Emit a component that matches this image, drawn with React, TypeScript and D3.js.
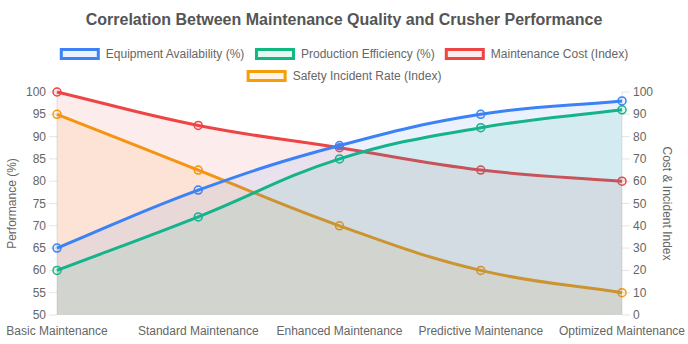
import React, { useMemo } from "react";
import * as d3 from "d3";

const categories = [
  "Basic Maintenance",
  "Standard Maintenance",
  "Enhanced Maintenance",
  "Predictive Maintenance",
  "Optimized Maintenance",
];
const equipmentAvailability = [65, 78, 88, 95, 98];
const productionEfficiency = [60, 72, 85, 92, 96];
const maintenanceCost = [100, 85, 75, 65, 60];
const safetyIncidentRate = [90, 65, 40, 20, 10];
const leftTicks = [50, 55, 60, 65, 70, 75, 80, 85, 90, 95, 100];
const rightTicks = [0, 10, 20, 30, 40, 50, 60, 70, 80, 90, 100];

const titleText = "Correlation Between Maintenance Quality and Crusher Performance";
const leftTitle = "Performance (%)";
const rightTitle = "Cost & Incident Index";

type Series = { name: string; values: number[]; color: string; axis: "left" | "right" };
const series: Series[] = [
  { name: "Equipment Availability (%)", values: equipmentAvailability, color: "#3b82f6", axis: "left" },
  { name: "Production Efficiency (%)", values: productionEfficiency, color: "#10b981", axis: "left" },
  { name: "Maintenance Cost (Index)", values: maintenanceCost, color: "#ef4444", axis: "right" },
  { name: "Safety Incident Rate (Index)", values: safetyIncidentRate, color: "#f59e0b", axis: "right" },
];

const W = 688;
const H = 344;
const FONT = "'Liberation Sans', Arial, Helvetica, sans-serif";
const plot = { left: 57, right: 622, top: 92, bottom: 315 };

function withAlpha(c: string, a: number) {
  const col = d3.color(c)!;
  col.opacity = a;
  return col.toString();
}

type P = { x: number; y: number; cpx1?: number; cpy1?: number; cpx2?: number; cpy2?: number };

function splinePath(pts: P[], t: number) {
  const n = pts.length;
  for (let i = 0; i < n; i++) {
    const cur = pts[i];
    const prev = i > 0 ? pts[i - 1] : cur;
    const next = i < n - 1 ? pts[i + 1] : cur;
    const d01 = Math.hypot(cur.x - prev.x, cur.y - prev.y);
    const d12 = Math.hypot(next.x - cur.x, next.y - cur.y);
    let s01 = d01 / (d01 + d12);
    let s12 = d12 / (d01 + d12);
    if (isNaN(s01)) s01 = 0;
    if (isNaN(s12)) s12 = 0;
    const fa = t * s01;
    const fb = t * s12;
    const clampX = (v: number) => Math.max(plot.left, Math.min(plot.right, v));
    const clampY = (v: number) => Math.max(plot.top, Math.min(plot.bottom, v));
    cur.cpx1 = clampX(cur.x - fa * (next.x - prev.x));
    cur.cpy1 = clampY(cur.y - fa * (next.y - prev.y));
    cur.cpx2 = clampX(cur.x + fb * (next.x - prev.x));
    cur.cpy2 = clampY(cur.y + fb * (next.y - prev.y));
  }
  const p = d3.path();
  p.moveTo(pts[0].x, pts[0].y);
  for (let i = 1; i < n; i++) {
    const a = pts[i - 1];
    const b = pts[i];
    p.bezierCurveTo(a.cpx2!, a.cpy2!, b.cpx1!, b.cpy1!, b.x, b.y);
  }
  return p.toString();
}

function measure(text: string, font: string) {
  if (typeof document === "undefined") return text.length * 6;
  const c = document.createElement("canvas");
  const ctx = c.getContext("2d")!;
  ctx.font = font;
  return ctx.measureText(text).width;
}

export default function App() {
  const x = d3
    .scalePoint<string>()
    .domain(categories)
    .range([plot.left, plot.right]);
  const yL = d3.scaleLinear().domain([50, 100]).range([plot.bottom, plot.top]);
  const yR = d3.scaleLinear().domain([0, 100]).range([plot.bottom, plot.top]);

  const legendRows = useMemo(() => {
    const font = `12px 'Liberation Sans', Arial`;
    const items = series.map((s) => ({ s, w: 40 + 6 + measure(s.name, font) }));
    const maxW = W - 20;
    const rows: { s: Series; w: number }[][] = [[]];
    let cur = 0;
    items.forEach((it) => {
      const add = (rows[rows.length - 1].length ? 10 : 0) + it.w;
      if (cur + add > maxW - 60 && rows[rows.length - 1].length) {
        rows.push([it]);
        cur = it.w;
      } else {
        rows[rows.length - 1].push(it);
        cur += add;
      }
    });
    return rows;
  }, []);

  // rows: ensure 3 + 1 layout like reference
  const rows =
    legendRows.length === 2 && legendRows[0].length === 3
      ? legendRows
      : (() => {
          const font = `12px 'Liberation Sans', Arial`;
          const items = series.map((s) => ({ s, w: 40 + 6 + measure(s.name, font) }));
          return [items.slice(0, 3), items.slice(3)];
        })();

  const drawOrder = [...series].reverse();

  return (
    <svg width={W} height={H} style={{ position: "absolute", left: 0, top: 0, fontFamily: FONT }}>
      <rect x={0} y={0} width={W} height={H} fill="#fff" />
      <text x={W / 2} y={19} textAnchor="middle" dominantBaseline="central" fontSize={16} fontWeight="bold" fill="#555">
        {titleText}
      </text>

      {rows.map((row, ri) => {
        const total = row.reduce((a, b) => a + b.w, 0) + 10 * (row.length - 1);
        let cx = W / 2 - total / 2;
        const cy = 54 + ri * 22;
        return row.map((it) => {
          const x0 = cx;
          cx += it.w + 10;
          return (
            <g key={it.s.name}>
              <rect x={x0 + 1.5} y={cy - 6 + 1.5} width={40 - 3} height={12 - 3} fill={withAlpha(it.s.color, 0.1)} stroke={it.s.color} strokeWidth={3} />
              <text x={x0 + 46} y={cy} dominantBaseline="central" fontSize={12} fill="#666">
                {it.s.name}
              </text>
            </g>
          );
        });
      })}

      {/* axes */}
      <line x1={plot.left} x2={plot.left} y1={plot.top} y2={plot.bottom} stroke="rgba(0,0,0,0.1)" />
      <line x1={plot.right} x2={plot.right} y1={plot.top} y2={plot.bottom} stroke="rgba(0,0,0,0.1)" />
      {leftTicks.map((t) => (
        <g key={"l" + t}>
          <line x1={plot.left - 8} x2={plot.left} y1={yL(t)} y2={yL(t)} stroke="rgba(0,0,0,0.1)" />
          <text x={plot.left - 11} y={yL(t)} textAnchor="end" dominantBaseline="central" fontSize={12} fill="#666">
            {t}
          </text>
        </g>
      ))}
      {rightTicks.map((t) => (
        <g key={"r" + t}>
          <line x1={plot.right} x2={plot.right + 8} y1={yR(t)} y2={yR(t)} stroke="rgba(0,0,0,0.1)" />
          <text x={plot.right + 11} y={yR(t)} textAnchor="start" dominantBaseline="central" fontSize={12} fill="#666">
            {t}
          </text>
        </g>
      ))}
      {categories.map((c) => (
        <text key={c} x={x(c)!} y={331} textAnchor="middle" dominantBaseline="central" fontSize={12} fill="#666">
          {c}
        </text>
      ))}
      <text
        transform={`translate(12,${(plot.top + plot.bottom) / 2}) rotate(-90)`}
        textAnchor="middle"
        dominantBaseline="central"
        fontSize={12}
        fill="#666"
      >
        {leftTitle}
      </text>
      <text
        transform={`translate(667,${(plot.top + plot.bottom) / 2}) rotate(90)`}
        textAnchor="middle"
        dominantBaseline="central"
        fontSize={12}
        fill="#666"
      >
        {rightTitle}
      </text>

      {drawOrder.map((s) => {
        const ys = s.axis === "left" ? yL : yR;
        const pts: P[] = s.values.map((v, i) => ({ x: x(categories[i])!, y: ys(v) }));
        const line = splinePath(pts, 0.4);
        const area = `${line}L${pts[pts.length - 1].x},${plot.bottom}L${pts[0].x},${plot.bottom}Z`;
        return (
          <g key={s.name}>
            <path d={area} fill={withAlpha(s.color, 0.1)} stroke="none" />
            <path d={line} fill="none" stroke={s.color} strokeWidth={3} />
            {pts.map((p, i) => (
              <circle key={i} cx={p.x} cy={p.y} r={4} fill={withAlpha(s.color, 0.1)} stroke={s.color} strokeWidth={1.5} />
            ))}
          </g>
        );
      })}
    </svg>
  );
}
